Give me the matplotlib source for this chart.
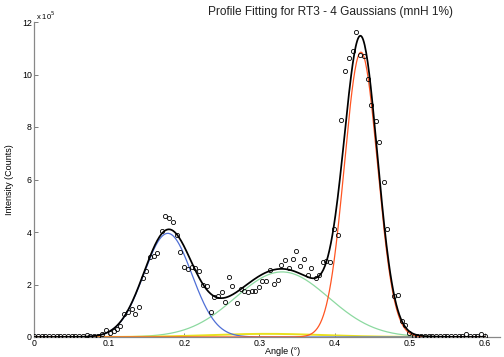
import numpy as np
import matplotlib.pyplot as plt

plt.rcParams['font.family'] = ['Liberation Sans', 'DejaVu Sans']

# measured points (angle in deg, intensity in units of 1e5 counts)
angle = [0.0, 0.005, 0.01, 0.015, 0.02, 0.025, 0.03, 0.035, 0.04, 0.045,
         0.05, 0.055, 0.06, 0.065, 0.07, 0.075, 0.08, 0.085,
         0.09, 0.096, 0.101, 0.106, 0.11, 0.114, 0.12, 0.125, 0.13, 0.134,
         0.14, 0.145, 0.149, 0.154, 0.159, 0.164, 0.17, 0.174, 0.18, 0.185,
         0.19, 0.194, 0.2, 0.205, 0.21, 0.214, 0.219, 0.225, 0.23, 0.235,
         0.24, 0.245, 0.25, 0.254, 0.259, 0.264, 0.27, 0.275, 0.28, 0.285,
         0.29, 0.294, 0.299, 0.304, 0.309, 0.314, 0.319, 0.324, 0.329, 0.334,
         0.339, 0.344, 0.349, 0.354, 0.359, 0.364, 0.369, 0.375, 0.379, 0.384,
         0.389, 0.394, 0.399, 0.405, 0.409, 0.414, 0.419, 0.424, 0.429, 0.434,
         0.439, 0.445, 0.449, 0.455, 0.459, 0.465, 0.47, 0.479, 0.484, 0.489,
         0.494, 0.499, 0.505, 0.51, 0.515, 0.52, 0.525, 0.53, 0.535, 0.54,
         0.545, 0.55, 0.555, 0.56, 0.565, 0.57, 0.575, 0.58, 0.585, 0.59,
         0.595, 0.6]
intensity = [0.04, 0.04, 0.03, 0.04, 0.04, 0.03, 0.04, 0.04, 0.03, 0.04,
             0.04, 0.04, 0.05, 0.04, 0.08, 0.04, 0.03, 0.05,
             0.11, 0.27, 0.14, 0.24, 0.29, 0.43, 0.88, 0.94, 1.06, 0.87,
             1.16, 2.26, 2.52, 3.05, 3.09, 3.19, 4.05, 4.62, 4.53, 4.39,
             3.88, 3.24, 2.68, 2.58, 2.65, 2.62, 2.51, 1.98, 1.95, 0.97,
             1.52, 1.58, 1.73, 1.32, 2.27, 1.95, 1.29, 1.82, 1.77, 1.72,
             1.77, 1.74, 1.92, 2.15, 2.15, 2.56, 2.03, 2.19, 2.74, 2.94,
             2.64, 2.99, 3.29, 2.71, 2.99, 2.38, 2.62, 2.25, 2.38, 2.86,
             2.91, 2.84, 4.11, 3.87, 8.28, 10.13, 10.64, 10.89, 11.63, 10.76,
             10.7, 9.84, 8.83, 8.22, 7.42, 5.92, 4.13, 1.55, 1.6, 0.6,
             0.45, 0.17, 0.05, 0.04, 0.03, 0.04, 0.03, 0.03, 0.04, 0.03,
             0.03, 0.04, 0.03, 0.03, 0.04, 0.03, 0.1, 0.03, 0.04, 0.03,
             0.1, 0.04]

# fitted gaussian components: blue, green, red, yellow
peak_centres = [0.178, 0.33, 0.435, 0.31]
peak_heights = [3.95, 2.48, 10.85, 0.12]
peak_widths = [0.032, 0.062, 0.022, 0.075]  # sigma
peak_colours = ['#4f6fd6', '#8cd9a0', '#ff5522', '#e8e020']
peak_lw = [0.9, 0.9, 0.9, 1.4]

x = np.linspace(0, 0.6, 601)
comps = []
for c, h, w in zip(peak_centres, peak_heights, peak_widths):
    comps.append(h * np.exp(-(x - c) ** 2 / (2 * w ** 2)))
total = np.sum(comps, axis=0)

fig = plt.figure(figsize=(5.04, 3.57), dpi=100)
ax = fig.add_axes([34 / 504, 1 - 337 / 357, 466 / 504, 315 / 357])

# draw order matters near zero: green, yellow, blue, red on top
for i in [1, 3, 0, 2]:
    ax.plot(x, comps[i], color=peak_colours[i], lw=peak_lw[i], zorder=2)
ax.plot(x, total, color='black', lw=1.25, zorder=3)
ax.plot(angle, intensity, 'o', mfc='none', mec='black', ms=3.0, mew=0.6, zorder=4)

ax.set_xlim(0, 0.62)
ax.set_ylim(0, 12)
ax.set_xticks([0, 0.1, 0.2, 0.3, 0.4, 0.5, 0.6])
ax.set_xticklabels(['0', '0.1', '0.2', '0.3', '0.4', '0.5', '0.6'])
ax.set_yticks([0, 2, 4, 6, 8, 10, 12])
ax.tick_params(direction='in', length=3, width=0.6, labelsize=6.3, pad=1.5, color='#666666')

for s in ['top', 'right']:
    ax.spines[s].set_visible(False)
for s in ['left', 'bottom']:
    ax.spines[s].set_color('#888888')
    ax.spines[s].set_linewidth(0.9)

fig.text(36 / 504, 1 - 16 / 357, r'x 10$^5$', fontsize=5.5, va='center')
fig.text(330 / 504, 1 - 12 / 357, 'Profile Fitting for RT3 - 4 Gaussians (mnH 1%)',
         fontsize=8.6, ha='center', va='center', color='#222222')
fig.text(283 / 504, 1 - 352 / 357, 'Angle (°)', fontsize=6.5, ha='center', va='center')
fig.text(10 / 504, 1 - 180 / 357, 'Intensity (Counts)', fontsize=6.5, ha='center',
         va='center', rotation=90)

fig.savefig('out.png', dpi=100)
